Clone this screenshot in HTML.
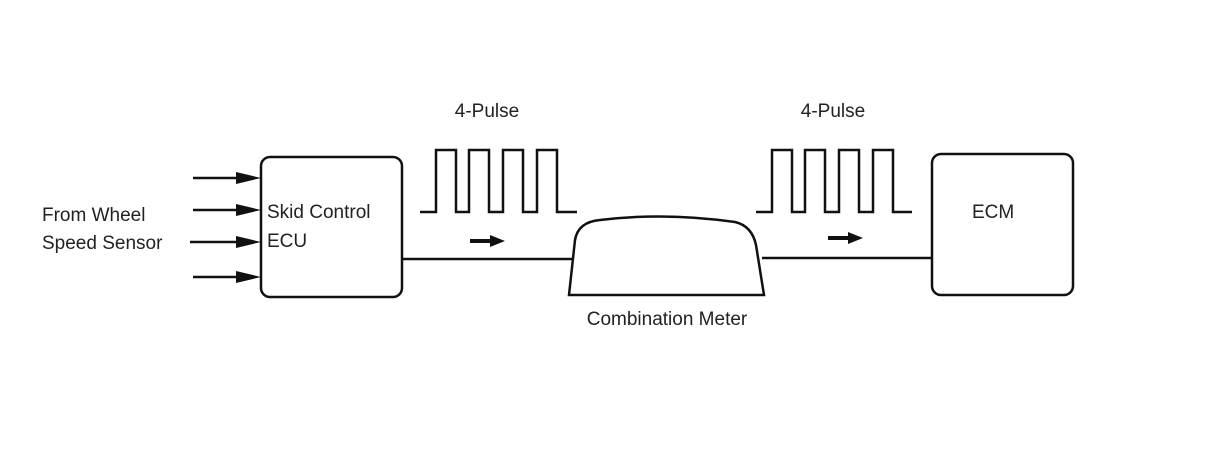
<!DOCTYPE html>
<html><head><meta charset="utf-8"><style>
html,body{margin:0;padding:0;background:#fff;}
svg{display:block;}
text{font-family:"Liberation Sans",sans-serif;font-size:19px;fill:#222;}
</style></head><body>
<svg width="1210" height="466" viewBox="0 0 1210 466" xmlns="http://www.w3.org/2000/svg">
<g stroke="#111" stroke-width="2.5" fill="none">
<rect x="261" y="157" width="141" height="140" rx="9"/>
<rect x="932" y="154" width="141" height="141" rx="9"/>
<path d="M569 295 L575 240 Q578 222 600 220 Q665 212 735 222 Q752 226 756 245 L764 295 Z"/>
<line x1="402" y1="259" x2="572" y2="259"/>
<line x1="762" y1="258" x2="932" y2="258"/>
<line x1="193" y1="178" x2="240" y2="178"/>
<line x1="193" y1="210" x2="240" y2="210"/>
<line x1="190" y1="242" x2="240" y2="242"/>
<line x1="193" y1="277" x2="240" y2="277"/>
<path d="M420 212 H436 V150 H456 V212 H469 V150 H489 V212 H503 V150 H523 V212 H537 V150 H557 V212 H577"/>
<path d="M756 212 H772 V150 H792 V212 H805 V150 H825 V212 H839 V150 H859 V212 H873 V150 H893 V212 H912"/>
<line x1="470" y1="241" x2="492" y2="241" stroke-width="4"/>
<line x1="828" y1="238" x2="850" y2="238" stroke-width="4"/>
</g>
<g fill="#111">
<polygon points="236,172 261,178 236,184"/>
<polygon points="236,204 261,210 236,216"/>
<polygon points="236,236 261,242 236,248"/>
<polygon points="236,271 261,277 236,283"/>
<polygon points="490,235 505,241 490,247"/>
<polygon points="848,232 863,238 848,244"/>
</g>
<text x="487" y="117" text-anchor="middle">4-Pulse</text>
<text x="833" y="117" text-anchor="middle">4-Pulse</text>
<text x="42" y="221">From Wheel</text>
<text x="42" y="249">Speed Sensor</text>
<text x="267" y="218">Skid Control</text>
<text x="267" y="247">ECU</text>
<text x="972" y="218">ECM</text>
<text x="667" y="325" text-anchor="middle">Combination Meter</text>
</svg>
</body></html>
